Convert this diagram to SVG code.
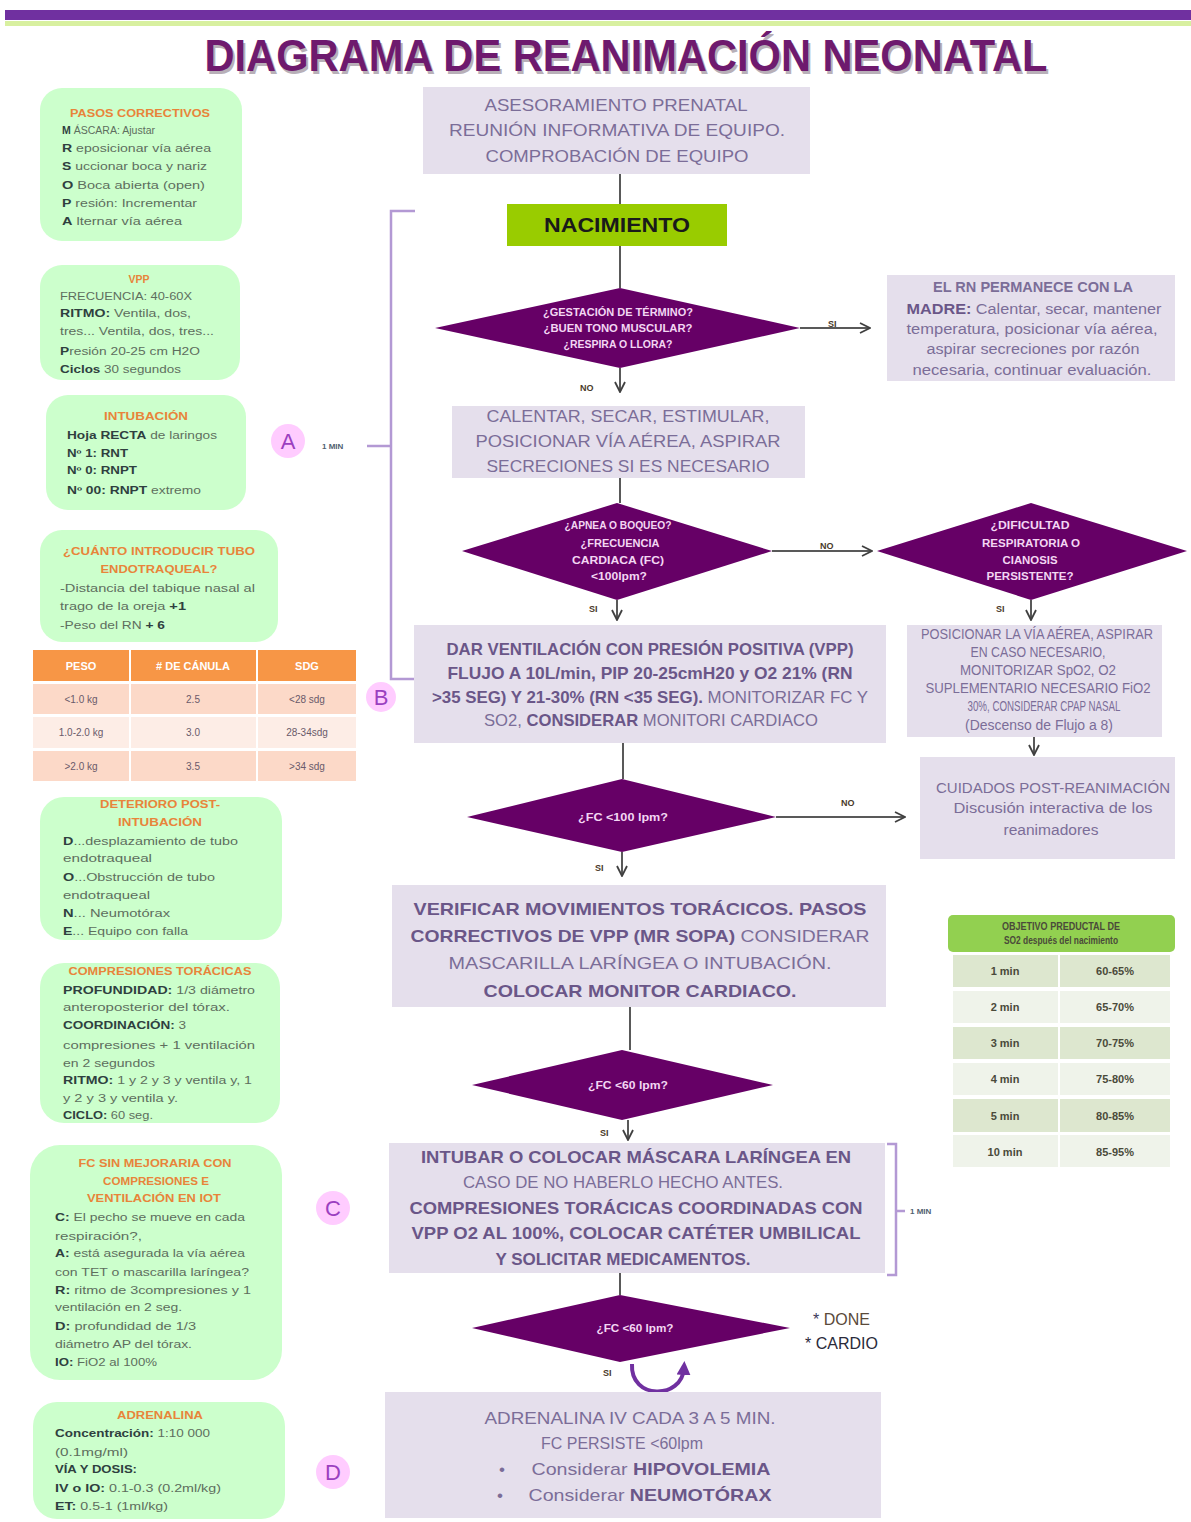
<svg xmlns="http://www.w3.org/2000/svg" width="1191" height="1522" viewBox="0 0 1191 1522">
<defs>
<style>
text{font-family:"Liberation Sans",Arial,sans-serif}
.bx{fill:#e5dfec}
.gb{fill:#ccffcc}
.dm{fill:#660066}
.ct{fill:#7b6d98;font-size:17px;text-anchor:middle}
.cb{fill:#6a5688;font-weight:bold}
.rt{fill:#7b6d98;font-size:14px;text-anchor:middle}
.dt{fill:#f3d6f3;font-size:10px;font-weight:bold;text-anchor:middle}
.lbl{fill:#4a3a2a;font-size:9px;font-weight:bold}
.gt{fill:#e8843a;font-size:10.5px;font-weight:bold}
.gx{fill:#5e6e5e;font-size:10px}
.gk{fill:#2f3f3f;font-weight:bold}
.ln{stroke:#595959;stroke-width:2;fill:none}
.br{stroke:#b399d4;stroke-width:2.5;fill:none}
.cir{fill:#ffccff}
.cl{fill:#9b3fc0;font-size:22px;text-anchor:middle}
.th{fill:#ffffff;font-size:11px;font-weight:bold;text-anchor:middle}
.td{fill:#6a5a6a;font-size:10px;text-anchor:middle}
.ot{fill:#4a4a3a;font-size:11px;font-weight:bold;text-anchor:middle}
</style>
<marker id="ah" viewBox="0 0 12 12" refX="11" refY="6" markerWidth="12" markerHeight="12" markerUnits="userSpaceOnUse" orient="auto">
<path d="M1,1 L11,6 L1,11" fill="none" stroke="#404040" stroke-width="1.8"/>
</marker>
<marker id="ahp" viewBox="0 0 10 10" refX="5" refY="5" markerWidth="14" markerHeight="14" markerUnits="userSpaceOnUse" orient="auto">
<path d="M0,0 L10,5 L0,10 Z" fill="#7030a0"/>
</marker>
</defs>
<rect width="1191" height="1522" fill="#ffffff"/>
<!-- header -->
<rect x="5" y="10" width="1186" height="10" fill="#7030a0"/>
<rect x="5" y="21" width="1186" height="5" fill="#d8f0a0"/>
<text x="628" y="74" font-size="44" font-weight="bold" fill="#b8b0b8" text-anchor="middle" textLength="843" lengthAdjust="spacingAndGlyphs">DIAGRAMA DE REANIMACIÓN NEONATAL</text>
<text x="626" y="71" font-size="44" font-weight="bold" fill="#6e1a6e" text-anchor="middle" textLength="843" lengthAdjust="spacingAndGlyphs">DIAGRAMA DE REANIMACIÓN NEONATAL</text>

<!-- connectors -->
<g id="connectors">
<line class="ln" x1="620" y1="174" x2="620" y2="204"/>
<line class="ln" x1="620" y1="246" x2="620" y2="288"/>
<line class="ln" x1="800" y1="328" x2="870" y2="328" marker-end="url(#ah)"/>
<line class="ln" x1="620" y1="368" x2="620" y2="392" marker-end="url(#ah)"/>
<line class="ln" x1="620" y1="478" x2="620" y2="503"/>
<line class="ln" x1="772" y1="551" x2="872" y2="551" marker-end="url(#ah)"/>
<line class="ln" x1="617" y1="600" x2="617" y2="620" marker-end="url(#ah)"/>
<line class="ln" x1="1031" y1="600" x2="1031" y2="620" marker-end="url(#ah)"/>
<line class="ln" x1="623" y1="743" x2="623" y2="779"/>
<line class="ln" x1="776" y1="817" x2="905" y2="817" marker-end="url(#ah)"/>
<line class="ln" x1="622" y1="852" x2="622" y2="876" marker-end="url(#ah)"/>
<line class="ln" x1="1034" y1="737" x2="1034" y2="755" marker-end="url(#ah)"/>
<line class="ln" x1="630" y1="1007" x2="630" y2="1050"/>
<line class="ln" x1="628" y1="1120" x2="628" y2="1140" marker-end="url(#ah)"/>
<line class="ln" x1="620" y1="1273" x2="620" y2="1295"/>
<path d="M632,1364 C630,1400 682,1400 684,1368" stroke="#7030a0" stroke-width="4" fill="none" marker-end="url(#ahp)"/>
<text class="lbl" x="828" y="327">SI</text>
<text class="lbl" x="580" y="391">NO</text>
<text class="lbl" x="820" y="549">NO</text>
<text class="lbl" x="589" y="612">SI</text>
<text class="lbl" x="996" y="612">SI</text>
<text class="lbl" x="841" y="806">NO</text>
<text class="lbl" x="595" y="871">SI</text>
<text class="lbl" x="600" y="1136">SI</text>
<text class="lbl" x="603" y="1376">SI</text>
<!-- brackets -->
<path class="br" d="M415,211 L391,211 L391,679 L415,679 M367,446 L391,446"/>
<path class="br" d="M887,1144 L896,1144 L896,1275 L887,1275 M896,1211 L905,1211"/>
<text x="322" y="449" font-size="8" font-weight="bold" fill="#506070">1 MIN</text>
<text x="910" y="1214" font-size="8" font-weight="bold" fill="#506070">1 MIN</text>
</g>

<!-- center flow -->
<g id="prenatal">
<rect class="bx" x="423" y="87" width="387" height="87"/>
<text class="ct" x="616" y="111" textLength="263" lengthAdjust="spacingAndGlyphs">ASESORAMIENTO PRENATAL</text>
<text class="ct" x="617" y="136" textLength="336" lengthAdjust="spacingAndGlyphs">REUNIÓN INFORMATIVA DE EQUIPO.</text>
<text class="ct" x="617" y="162" textLength="263" lengthAdjust="spacingAndGlyphs">COMPROBACIÓN DE EQUIPO</text>
</g>
<g id="nacimiento">
<rect x="507" y="204" width="220" height="42" fill="#99cc00"/>
<text x="617" y="232" font-size="20" font-weight="bold" fill="#1a1a1a" text-anchor="middle" textLength="146" lengthAdjust="spacingAndGlyphs">NACIMIENTO</text>
</g>
<g id="d1">
<polygon class="dm" points="435,328 620,288 800,328 620,368"/>
<text class="dt" x="618" y="316" textLength="150" lengthAdjust="spacingAndGlyphs">¿GESTACIÓN DE TÉRMINO?</text>
<text class="dt" x="618" y="332" textLength="149" lengthAdjust="spacingAndGlyphs">¿BUEN TONO MUSCULAR?</text>
<text class="dt" x="618" y="348" textLength="109" lengthAdjust="spacingAndGlyphs">¿RESPIRA O LLORA?</text>
</g>
<g id="madre">
<rect class="bx" x="887" y="275" width="288" height="106"/>
<text class="rt cb" x="1033" y="292" textLength="200" lengthAdjust="spacingAndGlyphs">EL RN PERMANECE CON LA</text>
<text class="rt" x="1034" y="314" textLength="255" lengthAdjust="spacingAndGlyphs"><tspan class="cb">MADRE:</tspan> Calentar, secar, mantener</text>
<text class="rt" x="1032" y="334" textLength="251" lengthAdjust="spacingAndGlyphs">temperatura, posicionar vía aérea,</text>
<text class="rt" x="1033" y="354" textLength="213" lengthAdjust="spacingAndGlyphs">aspirar secreciones por razón</text>
<text class="rt" x="1032" y="375" textLength="239" lengthAdjust="spacingAndGlyphs">necesaria, continuar evaluación.</text>
</g>
<g id="calentar">
<rect class="bx" x="452" y="406" width="353" height="72"/>
<text class="ct" x="628" y="422" textLength="283" lengthAdjust="spacingAndGlyphs">CALENTAR, SECAR, ESTIMULAR,</text>
<text class="ct" x="628" y="447" textLength="305" lengthAdjust="spacingAndGlyphs">POSICIONAR VÍA AÉREA, ASPIRAR</text>
<text class="ct" x="628" y="472" textLength="283" lengthAdjust="spacingAndGlyphs">SECRECIONES SI ES NECESARIO</text>
</g>
<g id="d2">
<polygon class="dm" points="462,551 617,503 772,551 617,600"/>
<text class="dt" x="618" y="529" textLength="107" lengthAdjust="spacingAndGlyphs">¿APNEA O BOQUEO?</text>
<text class="dt" x="620" y="547" textLength="79" lengthAdjust="spacingAndGlyphs">¿FRECUENCIA</text>
<text class="dt" x="618" y="564" textLength="92" lengthAdjust="spacingAndGlyphs">CARDIACA (FC)</text>
<text class="dt" x="619" y="580" textLength="56" lengthAdjust="spacingAndGlyphs">&lt;100lpm?</text>
</g>
<g id="d3">
<polygon class="dm" points="877,551 1031,503 1187,551 1031,600"/>
<text class="dt" x="1030" y="529" textLength="79" lengthAdjust="spacingAndGlyphs">¿DIFICULTAD</text>
<text class="dt" x="1031" y="547" textLength="98" lengthAdjust="spacingAndGlyphs">RESPIRATORIA O</text>
<text class="dt" x="1030" y="564" textLength="55" lengthAdjust="spacingAndGlyphs">CIANOSIS</text>
<text class="dt" x="1030" y="580" textLength="87" lengthAdjust="spacingAndGlyphs">PERSISTENTE?</text>
</g>
<g id="vpp">
<rect class="bx" x="414" y="625" width="472" height="118"/>
<text class="ct cb" x="650" y="655" font-size="15" textLength="407" lengthAdjust="spacingAndGlyphs">DAR VENTILACIÓN CON PRESIÓN POSITIVA (VPP)</text>
<text class="ct" x="650" y="679" font-size="15" textLength="405" lengthAdjust="spacingAndGlyphs"><tspan class="cb">FLUJO A 10L/min, PIP 20-25cmH20 y O2 21% (RN</tspan></text>
<text class="ct" x="650" y="703" font-size="15" textLength="436" lengthAdjust="spacingAndGlyphs"><tspan class="cb">&gt;35 SEG) Y 21-30% (RN &lt;35 SEG).</tspan> MONITORIZAR FC Y</text>
<text class="ct" x="651" y="726" font-size="15" textLength="334" lengthAdjust="spacingAndGlyphs">SO2, <tspan class="cb">CONSIDERAR</tspan> MONITORI CARDIACO</text>
</g>
<g id="cpap">
<rect class="bx" x="907" y="625" width="255" height="112"/>
<text class="rt" x="1037" y="639" font-size="11" textLength="232" lengthAdjust="spacingAndGlyphs">POSICIONAR LA VÍA AÉREA, ASPIRAR</text>
<text class="rt" x="1038" y="657" font-size="11" textLength="135" lengthAdjust="spacingAndGlyphs">EN CASO NECESARIO,</text>
<text class="rt" x="1038" y="675" font-size="11" textLength="156" lengthAdjust="spacingAndGlyphs">MONITORIZAR SpO2, O2</text>
<text class="rt" x="1038" y="693" font-size="11" textLength="225" lengthAdjust="spacingAndGlyphs">SUPLEMENTARIO NECESARIO FiO2</text>
<text class="rt" x="1044" y="711" font-size="11" textLength="153" lengthAdjust="spacingAndGlyphs">30%, CONSIDERAR CPAP NASAL</text>
<text class="rt" x="1039" y="730" font-size="10" textLength="148" lengthAdjust="spacingAndGlyphs">(Descenso de Flujo a 8)</text>
</g>
<g id="cuidados">
<rect class="bx" x="920" y="757" width="255" height="102"/>
<text class="rt" x="1053" y="793" textLength="234" lengthAdjust="spacingAndGlyphs">CUIDADOS POST-REANIMACIÓN</text>
<text class="rt" x="1053" y="813" textLength="199" lengthAdjust="spacingAndGlyphs">Discusión interactiva de los</text>
<text class="rt" x="1051" y="835" textLength="95" lengthAdjust="spacingAndGlyphs">reanimadores</text>
</g>
<g id="d4">
<polygon class="dm" points="467,817 622,779 776,817 622,852"/>
<text class="dt" x="623" y="821" textLength="90" lengthAdjust="spacingAndGlyphs">¿FC &lt;100 lpm?</text>
</g>
<g id="verificar">
<rect class="bx" x="392" y="885" width="494" height="122"/>
<text class="ct cb" x="640" y="915" font-size="18" textLength="453" lengthAdjust="spacingAndGlyphs">VERIFICAR MOVIMIENTOS TORÁCICOS. PASOS</text>
<text class="ct" x="640" y="942" font-size="18" textLength="459" lengthAdjust="spacingAndGlyphs"><tspan class="cb">CORRECTIVOS DE VPP (MR SOPA)</tspan> CONSIDERAR</text>
<text class="ct" x="640" y="969" font-size="18" textLength="383" lengthAdjust="spacingAndGlyphs">MASCARILLA LARÍNGEA O INTUBACIÓN.</text>
<text class="ct cb" x="640" y="997" font-size="18" textLength="313" lengthAdjust="spacingAndGlyphs">COLOCAR MONITOR CARDIACO.</text>
</g>
<g id="d5">
<polygon class="dm" points="472,1085 622,1050 773,1085 622,1120"/>
<text class="dt" x="628" y="1089" textLength="80" lengthAdjust="spacingAndGlyphs">¿FC &lt;60 lpm?</text>
</g>
<g id="intubar">
<rect class="bx" x="389" y="1143" width="496" height="130"/>
<text class="ct cb" x="636" y="1163" textLength="430" lengthAdjust="spacingAndGlyphs">INTUBAR O COLOCAR MÁSCARA LARÍNGEA EN</text>
<text class="ct" x="623" y="1188" textLength="320" lengthAdjust="spacingAndGlyphs">CASO DE NO HABERLO HECHO ANTES.</text>
<text class="ct cb" x="636" y="1214" textLength="453" lengthAdjust="spacingAndGlyphs">COMPRESIONES TORÁCICAS COORDINADAS CON</text>
<text class="ct cb" x="636" y="1239" textLength="449" lengthAdjust="spacingAndGlyphs">VPP O2 AL 100%, COLOCAR CATÉTER UMBILICAL</text>
<text class="ct cb" x="623" y="1265" textLength="255" lengthAdjust="spacingAndGlyphs">Y SOLICITAR MEDICAMENTOS.</text>
</g>
<g id="d6">
<polygon class="dm" points="472,1328 620,1295 790,1328 620,1362"/>
<text class="dt" x="635" y="1332" textLength="77" lengthAdjust="spacingAndGlyphs">¿FC &lt;60 lpm?</text>
</g>
<g id="done-cardio">
<text x="813" y="1325" font-size="16" fill="#3a3a5a">* <tspan fill="#5a4a3a">DONE</tspan></text>
<text x="805" y="1349" font-size="16" fill="#2a2a3a">* CARDIO</text>
</g>
<g id="adrenalina-box">
<rect class="bx" x="385" y="1392" width="496" height="126"/>
<text class="ct" x="630" y="1424" textLength="291" lengthAdjust="spacingAndGlyphs">ADRENALINA IV CADA 3 A 5 MIN.</text>
<text class="ct" x="622" y="1449" textLength="162" lengthAdjust="spacingAndGlyphs">FC PERSISTE &lt;60lpm</text>
<text class="ct" x="502" y="1475">•</text>
<text class="ct" x="651" y="1475" textLength="239" lengthAdjust="spacingAndGlyphs">Considerar <tspan class="cb">HIPOVOLEMIA</tspan></text>
<text class="ct" x="500" y="1501">•</text>
<text class="ct" x="650" y="1501" textLength="243" lengthAdjust="spacingAndGlyphs">Considerar <tspan class="cb">NEUMOTÓRAX</tspan></text>
</g>

<!-- circles -->
<g id="circle-a"><circle class="cir" cx="288" cy="441" r="17"/><text class="cl" x="288" y="449">A</text></g>
<g id="circle-b"><circle class="cir" cx="381" cy="697" r="15"/><text class="cl" x="381" y="705">B</text></g>
<g id="circle-c"><circle class="cir" cx="333" cy="1208" r="17"/><text class="cl" x="333" y="1216">C</text></g>
<g id="circle-d"><circle class="cir" cx="333" cy="1472" r="17"/><text class="cl" x="333" y="1480">D</text></g>

<!-- left column -->
<g id="pasos">
<rect class="gb" x="40" y="88" width="202" height="153" rx="22"/>
<text class="gt" x="70" y="117" textLength="140" lengthAdjust="spacingAndGlyphs">PASOS CORRECTIVOS</text>
<text class="gx" x="62" y="134" textLength="93" lengthAdjust="spacingAndGlyphs"><tspan class="gk">M</tspan> ÁSCARA: Ajustar</text>
<text class="gx" x="62" y="152" textLength="149" lengthAdjust="spacingAndGlyphs"><tspan class="gk">R</tspan> eposicionar vía aérea</text>
<text class="gx" x="62" y="170" textLength="145" lengthAdjust="spacingAndGlyphs"><tspan class="gk">S</tspan> uccionar boca y nariz</text>
<text class="gx" x="62" y="189" textLength="143" lengthAdjust="spacingAndGlyphs"><tspan class="gk">O</tspan> Boca abierta (open)</text>
<text class="gx" x="62" y="207" textLength="135" lengthAdjust="spacingAndGlyphs"><tspan class="gk">P</tspan> resión: Incrementar</text>
<text class="gx" x="62" y="225" textLength="120" lengthAdjust="spacingAndGlyphs"><tspan class="gk">A</tspan> lternar vía aérea</text>
</g>
<g id="vpp-info">
<rect class="gb" x="40" y="265" width="200" height="115" rx="22"/>
<text class="gt" x="139" y="283" text-anchor="middle">VPP</text>
<text class="gx" x="60" y="300" textLength="132" lengthAdjust="spacingAndGlyphs">FRECUENCIA: 40-60X</text>
<text class="gx" x="60" y="317" textLength="131" lengthAdjust="spacingAndGlyphs"><tspan class="gk">RITMO:</tspan> Ventila, dos,</text>
<text class="gx" x="60" y="335" textLength="154" lengthAdjust="spacingAndGlyphs">tres... Ventila, dos, tres...</text>
<text class="gx" x="60" y="355" textLength="140" lengthAdjust="spacingAndGlyphs"><tspan class="gk">P</tspan>resión 20-25 cm H2O</text>
<text class="gx" x="60" y="373" textLength="121" lengthAdjust="spacingAndGlyphs"><tspan class="gk">Ciclos</tspan> 30 segundos</text>
</g>
<g id="intubacion">
<rect class="gb" x="46" y="395" width="200" height="115" rx="22"/>
<text class="gt" x="146" y="420" text-anchor="middle" textLength="84" lengthAdjust="spacingAndGlyphs">INTUBACIÓN</text>
<text class="gx" x="67" y="439" textLength="150" lengthAdjust="spacingAndGlyphs"><tspan class="gk">Hoja RECTA</tspan> de laringos</text>
<text class="gx gk" x="67" y="457" textLength="61" lengthAdjust="spacingAndGlyphs">Nº 1: RNT</text>
<text class="gx gk" x="67" y="474" textLength="70" lengthAdjust="spacingAndGlyphs">Nº 0: RNPT</text>
<text class="gx" x="67" y="494" textLength="134" lengthAdjust="spacingAndGlyphs"><tspan class="gk">Nº 00: RNPT</tspan> extremo</text>
</g>
<g id="cuanto">
<rect class="gb" x="40" y="530" width="238" height="112" rx="22"/>
<text class="gt" x="159" y="555" text-anchor="middle" textLength="192" lengthAdjust="spacingAndGlyphs">¿CUÁNTO INTRODUCIR TUBO</text>
<text class="gt" x="159" y="573" text-anchor="middle" textLength="117" lengthAdjust="spacingAndGlyphs">ENDOTRAQUEAL?</text>
<text class="gx" x="60" y="592" textLength="195" lengthAdjust="spacingAndGlyphs">-Distancia  del tabique nasal al</text>
<text class="gx" x="60" y="610" textLength="126" lengthAdjust="spacingAndGlyphs">trago de la oreja <tspan class="gk">+1</tspan></text>
<text class="gx" x="60" y="629" textLength="105" lengthAdjust="spacingAndGlyphs">-Peso del RN <tspan class="gk">+ 6</tspan></text>
</g>
<g id="tabla-canula">
<rect x="33" y="650" width="96" height="31" fill="#f79646"/>
<rect x="131" y="650" width="125" height="31" fill="#f79646"/>
<rect x="258" y="650" width="98" height="31" fill="#f79646"/>
<rect x="33" y="684" width="96" height="30" fill="#fcd9c8"/>
<rect x="131" y="684" width="125" height="30" fill="#fcd9c8"/>
<rect x="258" y="684" width="98" height="30" fill="#fcd9c8"/>
<rect x="33" y="717" width="96" height="31" fill="#fdede6"/>
<rect x="131" y="717" width="125" height="31" fill="#fdede6"/>
<rect x="258" y="717" width="98" height="31" fill="#fdede6"/>
<rect x="33" y="751" width="96" height="30" fill="#fcd9c8"/>
<rect x="131" y="751" width="125" height="30" fill="#fcd9c8"/>
<rect x="258" y="751" width="98" height="30" fill="#fcd9c8"/>
<text class="th" x="81" y="670">PESO</text>
<text class="th" x="193" y="670">#  DE CÁNULA</text>
<text class="th" x="307" y="670">SDG</text>
<text class="td" x="81" y="703">&lt;1.0 kg</text>
<text class="td" x="193" y="703">2.5</text>
<text class="td" x="307" y="703">&lt;28 sdg</text>
<text class="td" x="81" y="736">1.0-2.0 kg</text>
<text class="td" x="193" y="736">3.0</text>
<text class="td" x="307" y="736">28-34sdg</text>
<text class="td" x="81" y="770">&gt;2.0 kg</text>
<text class="td" x="193" y="770">3.5</text>
<text class="td" x="307" y="770">&gt;34 sdg</text>
</g>
<g id="deterioro">
<rect class="gb" x="40" y="797" width="242" height="143" rx="24"/>
<text class="gt" x="160" y="808" text-anchor="middle" textLength="120" lengthAdjust="spacingAndGlyphs">DETERIORO POST-</text>
<text class="gt" x="160" y="826" text-anchor="middle" textLength="84" lengthAdjust="spacingAndGlyphs">INTUBACIÓN</text>
<text class="gx" x="63" y="845" textLength="175" lengthAdjust="spacingAndGlyphs"><tspan class="gk">D</tspan>...desplazamiento de tubo</text>
<text class="gx" x="63" y="862" textLength="89" lengthAdjust="spacingAndGlyphs">endotraqueal</text>
<text class="gx" x="63" y="881" textLength="152" lengthAdjust="spacingAndGlyphs"><tspan class="gk">O</tspan>...Obstrucción de tubo</text>
<text class="gx" x="63" y="899" textLength="87" lengthAdjust="spacingAndGlyphs">endotraqueal</text>
<text class="gx" x="63" y="917" textLength="107" lengthAdjust="spacingAndGlyphs"><tspan class="gk">N</tspan>... Neumotórax</text>
<text class="gx" x="63" y="935" textLength="125" lengthAdjust="spacingAndGlyphs"><tspan class="gk">E</tspan>... Equipo con falla</text>
</g>
<g id="compresiones">
<rect class="gb" x="40" y="963" width="240" height="160" rx="24"/>
<text class="gt" x="160" y="975" text-anchor="middle" textLength="183" lengthAdjust="spacingAndGlyphs">COMPRESIONES TORÁCICAS</text>
<text class="gx" x="63" y="994" textLength="192" lengthAdjust="spacingAndGlyphs"><tspan class="gk">PROFUNDIDAD:</tspan> 1/3 diámetro</text>
<text class="gx" x="63" y="1011" textLength="167" lengthAdjust="spacingAndGlyphs">anteroposterior del  tórax.</text>
<text class="gx" x="63" y="1029" textLength="123" lengthAdjust="spacingAndGlyphs"><tspan class="gk">COORDINACIÓN:</tspan> 3</text>
<text class="gx" x="63" y="1049" textLength="192" lengthAdjust="spacingAndGlyphs">compresiones  + 1 ventilación</text>
<text class="gx" x="63" y="1067" textLength="92" lengthAdjust="spacingAndGlyphs">en 2 segundos</text>
<text class="gx" x="63" y="1084" textLength="189" lengthAdjust="spacingAndGlyphs"><tspan class="gk">RITMO:</tspan> 1 y 2 y 3 y ventila y, 1</text>
<text class="gx" x="63" y="1102" textLength="115" lengthAdjust="spacingAndGlyphs">y 2 y 3 y ventila y.</text>
<text class="gx" x="63" y="1119" textLength="90" lengthAdjust="spacingAndGlyphs"><tspan class="gk">CICLO:</tspan> 60 seg.</text>
</g>
<g id="fc-sin-mejoria">
<rect class="gb" x="30" y="1145" width="252" height="235" rx="30"/>
<text class="gt" x="155" y="1167" text-anchor="middle" textLength="153" lengthAdjust="spacingAndGlyphs">FC SIN MEJORARIA CON</text>
<text class="gt" x="156" y="1185" text-anchor="middle" textLength="106" lengthAdjust="spacingAndGlyphs">COMPRESIONES E</text>
<text class="gt" x="154" y="1202" text-anchor="middle" textLength="134" lengthAdjust="spacingAndGlyphs">VENTILACIÓN EN IOT</text>
<text class="gx" x="55" y="1221" textLength="190" lengthAdjust="spacingAndGlyphs"><tspan class="gk">C:</tspan> El pecho se mueve en cada</text>
<text class="gx" x="55" y="1240" textLength="87" lengthAdjust="spacingAndGlyphs">respiración?,</text>
<text class="gx" x="55" y="1257" textLength="190" lengthAdjust="spacingAndGlyphs"><tspan class="gk">A:</tspan> está asegurada la vía aérea</text>
<text class="gx" x="55" y="1276" textLength="194" lengthAdjust="spacingAndGlyphs">con TET o mascarilla laríngea?</text>
<text class="gx" x="55" y="1294" textLength="196" lengthAdjust="spacingAndGlyphs"><tspan class="gk">R:</tspan> ritmo de 3compresiones y 1</text>
<text class="gx" x="55" y="1311" textLength="127" lengthAdjust="spacingAndGlyphs">ventilación en 2 seg.</text>
<text class="gx" x="55" y="1330" textLength="141" lengthAdjust="spacingAndGlyphs"><tspan class="gk">D:</tspan> profundidad de 1/3</text>
<text class="gx" x="55" y="1348" textLength="137" lengthAdjust="spacingAndGlyphs">diámetro AP del tórax.</text>
<text class="gx" x="55" y="1366" textLength="102" lengthAdjust="spacingAndGlyphs"><tspan class="gk">IO:</tspan> FiO2 al 100%</text>
</g>
<g id="adrenalina-info">
<rect class="gb" x="33" y="1402" width="252" height="117" rx="24"/>
<text class="gt" x="160" y="1419" text-anchor="middle" textLength="86" lengthAdjust="spacingAndGlyphs">ADRENALINA</text>
<text class="gx" x="55" y="1437" textLength="155" lengthAdjust="spacingAndGlyphs"><tspan class="gk">Concentración:</tspan> 1:10 000</text>
<text class="gx" x="55" y="1456" textLength="73" lengthAdjust="spacingAndGlyphs">(0.1mg/ml)</text>
<text class="gx gk" x="55" y="1473" textLength="82" lengthAdjust="spacingAndGlyphs">VÍA Y DOSIS:</text>
<text class="gx" x="55" y="1492" textLength="166" lengthAdjust="spacingAndGlyphs"><tspan class="gk">IV o IO:</tspan> 0.1-0.3 (0.2ml/kg)</text>
<text class="gx" x="55" y="1510" textLength="113" lengthAdjust="spacingAndGlyphs"><tspan class="gk">ET:</tspan> 0.5-1 (1ml/kg)</text>
</g>

<!-- right table -->
<g id="objetivo">
<rect x="948" y="915" width="227" height="37" rx="5" fill="#92d050"/>
<text class="ot" x="1061" y="930" font-size="10" textLength="118" lengthAdjust="spacingAndGlyphs">OBJETIVO PREDUCTAL DE</text>
<text class="ot" x="1061" y="944" font-size="8" textLength="114" lengthAdjust="spacingAndGlyphs">SO2 después del nacimiento</text>
<rect x="953" y="955" width="105" height="32" fill="#dde7cf"/><rect x="1060" y="955" width="110" height="32" fill="#dde7cf"/>
<rect x="953" y="991" width="105" height="32" fill="#eff3ea"/><rect x="1060" y="991" width="110" height="32" fill="#eff3ea"/>
<rect x="953" y="1027" width="105" height="32" fill="#dde7cf"/><rect x="1060" y="1027" width="110" height="32" fill="#dde7cf"/>
<rect x="953" y="1063" width="105" height="32" fill="#eff3ea"/><rect x="1060" y="1063" width="110" height="32" fill="#eff3ea"/>
<rect x="953" y="1099" width="105" height="33" fill="#dde7cf"/><rect x="1060" y="1099" width="110" height="33" fill="#dde7cf"/>
<rect x="953" y="1135" width="105" height="32" fill="#eff3ea"/><rect x="1060" y="1135" width="110" height="32" fill="#eff3ea"/>
<text class="ot" x="1005" y="975" font-size="12">1 min</text><text class="ot" x="1115" y="975" font-size="12">60-65%</text>
<text class="ot" x="1005" y="1011" font-size="12">2 min</text><text class="ot" x="1115" y="1011" font-size="12">65-70%</text>
<text class="ot" x="1005" y="1047" font-size="12">3 min</text><text class="ot" x="1115" y="1047" font-size="12">70-75%</text>
<text class="ot" x="1005" y="1083" font-size="12">4 min</text><text class="ot" x="1115" y="1083" font-size="12">75-80%</text>
<text class="ot" x="1005" y="1120" font-size="12">5 min</text><text class="ot" x="1115" y="1120" font-size="12">80-85%</text>
<text class="ot" x="1005" y="1156" font-size="12">10 min</text><text class="ot" x="1115" y="1156" font-size="12">85-95%</text>
</g>
</svg>
